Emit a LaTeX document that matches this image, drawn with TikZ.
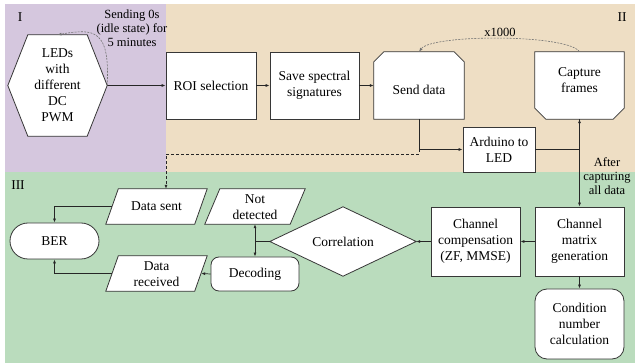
\documentclass[tikz,border=0pt]{standalone}
\usepackage{fontspec}
\setmainfont{Liberation Serif}
\usetikzlibrary{arrows.meta,calc}
\definecolor{purp}{RGB}{213,199,222}
\definecolor{tanc}{RGB}{238,222,196}
\definecolor{grn}{RGB}{186,220,189}
\definecolor{edgec}{RGB}{55,55,55}
\begin{document}
\begin{tikzpicture}[x=1pt,y=-1pt,
  font=\fontsize{13.5}{16}\selectfont,
  frame/.style={inner sep=0pt, align=center},
  box/.style={frame, draw=edgec, fill=white, line width=0.8pt},
  shp/.style={draw=edgec, fill=white, line width=0.8pt},
  arr/.style={draw=black!85, line width=0.7pt, -{Latex[length=4pt,width=3pt]}},
  gdash/.style={draw=black!55, line width=0.6pt, dash pattern=on 2pt off 1.2pt, -{Latex[length=4pt,width=3pt]}},
  kdash/.style={draw=black!85, line width=0.7pt, dash pattern=on 3pt off 2pt, -{Latex[length=4pt,width=3pt]}},
  lbl/.style={inner sep=0pt, align=center, font=\fontsize{12.5}{14}\selectfont}]
\useasboundingbox (0,0) rectangle (635,363);
% regions
\fill[purp] (5,4) rectangle (166,172);
\fill[tanc] (166,4) rectangle (635,172);
\fill[grn] (5,172) rectangle (635,363);
\node[frame] (rI) at (20,17) {I};
\node[frame] (rII) at (622,17) {II};
\node[frame] (rIII) at (18,185) {III};

% hexagon
\node[frame, minimum width=99pt, minimum height=101pt] (hex) at (57.5,85.5) {};
\draw[shp] (hex.west) -- ($(hex.north west)+(20,0)$) -- ($(hex.north east)+(-20,0)$) -- (hex.east)
  -- ($(hex.south east)+(-20,0)$) -- ($(hex.south west)+(20,0)$) -- cycle;
\node[frame] (hext) at (hex.center) {LEDs\\with\\different\\DC\\PWM};

\node[box, minimum width=90pt, minimum height=67pt] (roi) at (211,85.5) {ROI selection};
\node[box, minimum width=89pt, minimum height=67pt] (save) at (314.5,85.5) {Save spectral\\signatures};

% send data (top corners cut)
\node[frame, minimum width=90pt, minimum height=67pt] (send) at (419,85.5) {};
\draw[shp] ($(send.north west)+(0,10)$) -- ($(send.north west)+(10,0)$) -- ($(send.north east)+(-10,0)$)
  -- ($(send.north east)+(0,10)$) -- (send.south east) -- (send.south west) -- cycle;
\node[frame] (sendt) at ($(send.center)+(0,4)$) {Send data};

% capture frames (bottom corners cut)
\node[frame, minimum width=89pt, minimum height=67pt] (cap) at (579.5,85.5) {};
\draw[shp] (cap.north west) -- (cap.north east) -- ($(cap.south east)+(0,-11)$) -- ($(cap.south east)+(-11,0)$)
  -- ($(cap.south west)+(11,0)$) -- ($(cap.south west)+(0,-11)$) -- cycle;
\node[frame] (capt) at ($(cap.center)+(0,-5)$) {Capture\\frames};

\node[box, minimum width=72pt, minimum height=45pt] (ard) at (499,149.5) {Arduino to\\LED};

\node[box, minimum width=89pt, minimum height=69pt] (cmg) at (579.5,241.5) {Channel\\matrix\\generation};
\node[box, minimum width=89pt, minimum height=69pt] (cc) at (475.5,241.5) {Channel\\compensation\\(ZF, MMSE)};
\node[box, rounded corners=12pt, minimum width=89pt, minimum height=70pt] (cond) at (579.5,324) {Condition\\number\\calculation};

% correlation diamond
\node[frame, minimum width=146pt, minimum height=69pt] (corr) at (343,241.5) {};
\draw[shp] (corr.north) -- (corr.east) -- (corr.south) -- (corr.west) -- cycle;
\node[frame] (corrt) at (corr.center) {Correlation};

% not detected
\node[frame, minimum width=100pt, minimum height=35pt] (nd) at (255,206.5) {};
\draw[shp] ($(nd.north west)+(15,0)$) -- (nd.north east) -- ($(nd.south east)+(-15,0)$) -- (nd.south west) -- cycle;
\node[frame] (ndt) at ($(nd.center)+(0,1)$) {Not\\detected};

\node[box, rounded corners=8pt, minimum width=88pt, minimum height=34pt] (dec) at (255,274) {Decoding};

% data received
\node[frame, minimum width=101pt, minimum height=35pt] (dr) at (156.5,273.5) {};
\draw[shp] ($(dr.north west)+(12.5,0)$) -- (dr.north east) -- ($(dr.south east)+(-12.5,0)$) -- (dr.south west) -- cycle;
\node[frame] (drt) at ($(dr.center)+(0,1)$) {Data\\received};

% data sent
\node[frame, minimum width=101pt, minimum height=35pt] (ds) at (156.5,206.5) {};
\draw[shp] ($(ds.north west)+(12.5,0)$) -- (ds.north east) -- ($(ds.south east)+(-12.5,0)$) -- (ds.south west) -- cycle;
\node[frame] (dst) at (ds.center) {Data sent};

\node[box, rounded corners=18pt, minimum width=89pt, minimum height=36pt] (ber) at (54.5,241) {BER};

% labels
\node[lbl] (sendlbl) at (132,28) {Sending 0s\\(idle state) for\\5 minutes};
\node[lbl] (xlbl) at (500,32) {x1000};
\node[lbl] (afterlbl) at (607,176) {After\\capturing\\all data};

% connectors
\draw[arr] (hex.east) -- (roi.west);
\draw[arr] (roi.east) -- (save.west);
\draw[arr] (save.east) -- (send.west);
\coordinate (dbend) at (166,154);
\draw[kdash] (send.south) |- (dbend) -- (dbend |- ds.north);
\draw[arr] (send.south) |- (ard.west);
\draw[arr] (ard.east) -| (cap.south);
\draw[arr] (cap.south) -- (cmg.north);
\draw[arr] (cmg.west) -- (cc.east);
\draw[arr] (cc.west) -- (corr.east);
\draw[arr] (cmg.south) -- (cond.north);
\coordinate (jn) at (nd.south |- corr.west);
\draw[draw=black!85, line width=0.7pt] (corr.west) -- (jn);
\draw[arr] (jn) -- (nd.south);
\draw[arr] (jn) -- (dec.north);
\draw[arr] (dec.west) -- ($(dr.east)+(-6,0)$);
\draw[arr] ($(ds.west)+(6,0)$) -| (ber.north);
\draw[arr] ($(dr.west)+(6,0)$) -| (ber.south);
\draw[gdash] (hex.east) .. controls (110,30) and (95,28) .. (hex.north);
\draw[gdash] (cap.north) .. controls (568,34) and (432,34) .. (send.north);
\end{tikzpicture}
\end{document}
